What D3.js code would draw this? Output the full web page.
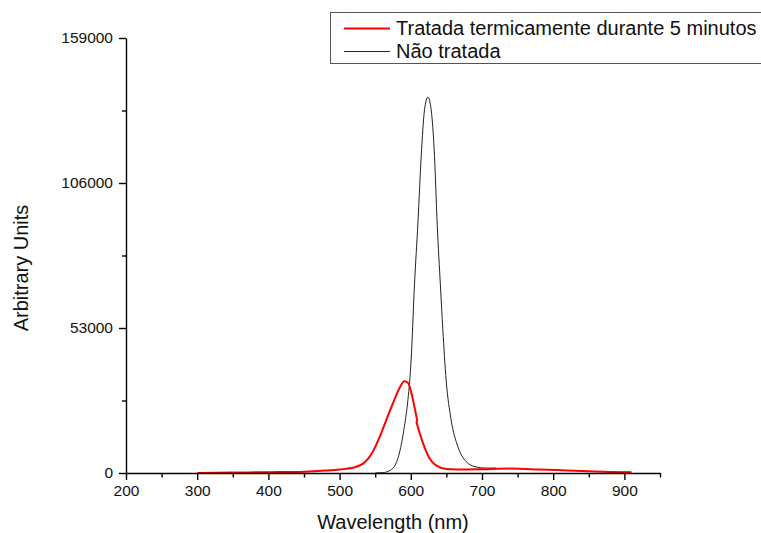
<!DOCTYPE html>
<html>
<head>
<meta charset="utf-8">
<script src="https://cdn.jsdelivr.net/npm/d3@7"></script>
<style>
  html, body { margin: 0; padding: 0; background: #fff; }
  svg { display: block; font-family: Arial, "Liberation Sans", sans-serif; }
</style>
</head>
<body>
<svg id="chart" width="761" height="533"></svg>
<script>
// ---------- data ----------
const seriesNames = ["Tratada termicamente durante 5 minutos", "Não tratada"];

// red series: two recorded segments (small jog near 608 nm)
const tratadaWavelengthA = [300, 350, 400, 450, 480, 500, 520, 535, 545, 556, 565, 575, 584, 591, 596, 602, 606, 609];
const tratadaValuesA     = [0, 150, 300, 500, 900, 1300, 2000, 3800, 7000, 13000, 19000, 25500, 31000, 33500, 33000, 28000, 23000, 19300];
const tratadaWavelengthB = [608, 612, 617, 626, 636, 650, 680, 700, 740, 780, 820, 850, 880, 910];
const tratadaValuesB     = [18600, 15000, 11000, 5500, 2700, 1500, 1300, 1400, 1600, 1300, 900, 600, 400, 250];

const naoTratadaWavelength = [550, 560, 566, 571, 577, 584, 591, 596, 600.5, 605, 610, 614.6, 619.3, 624, 628.6, 633.3, 637, 641.7, 645, 649.6, 656.6, 666, 677.6, 691.7, 705, 720];
const naoTratadaValues     = [0, 100, 400, 1000, 2400, 7300, 17000, 26800, 41400, 68000, 91400, 115700, 132800, 137400, 132800, 115700, 91400, 68000, 52400, 34100, 19500, 9700, 4200, 2200, 1800, 1800];

const xTicksMajor = [200, 300, 400, 500, 600, 700, 800, 900];
const xTicksMinor = [250, 350, 450, 550, 650, 750, 850, 950];
const yTicksMajor = [0, 53000, 106000, 159000];
const yTicksMinor = [26500, 79500, 132500];

// ---------- layout ----------
const svg = d3.select("#chart");
const x = d3.scaleLinear().domain([200, 950]).range([126, 660]);
const y = d3.scaleLinear().domain([0, 159000]).range([473, 38]);

const line = d3.line().x(d => x(d[0])).y(d => y(d[1])).curve(d3.curveMonotoneX);
const straight = d3.line().x(d => x(d[0])).y(d => y(d[1]));

const tratadaA = tratadaWavelengthA.map((w, i) => [w, tratadaValuesA[i]]);
const tratadaB = tratadaWavelengthB.map((w, i) => [w, tratadaValuesB[i]]);
const naoTratada = naoTratadaWavelength.map((w, i) => [w, naoTratadaValues[i]]);

svg.append("path")
  .datum(naoTratada)
  .attr("fill", "none")
  .attr("stroke", "#222")
  .attr("stroke-width", 1)
  .attr("d", line);

[tratadaA, tratadaB].forEach(seg => {
  svg.append("path")
    .datum(seg)
    .attr("fill", "none")
    .attr("stroke", "#ff0000")
    .attr("stroke-width", 2)
    .attr("stroke-linejoin", "round")
    .attr("d", line);
});
// join between the two segments
svg.append("path")
  .datum([tratadaA[tratadaA.length - 1], tratadaB[0]])
  .attr("fill", "none")
  .attr("stroke", "#ff0000")
  .attr("stroke-width", 2)
  .attr("stroke-linecap", "round")
  .attr("d", straight);

// axes
const xAxis = svg.append("g").attr("transform", "translate(0,473)");
xAxis.call(d3.axisBottom(x).tickValues(xTicksMajor).tickSize(7).tickSizeOuter(0).tickPadding(5).tickFormat(d3.format("d")));
xAxis.append("g").call(d3.axisBottom(x).tickValues(xTicksMinor).tickSize(4.5).tickSizeOuter(0).tickFormat(""))
  .select(".domain").remove();

const yAxis = svg.append("g").attr("transform", "translate(126,0)");
yAxis.call(d3.axisLeft(y).tickValues(yTicksMajor).tickSize(7).tickSizeOuter(0).tickPadding(6).tickFormat(d3.format("d")));
yAxis.append("g").call(d3.axisLeft(y).tickValues(yTicksMinor).tickSize(4).tickSizeOuter(0).tickFormat(""))
  .select(".domain").remove();

svg.selectAll(".domain").attr("stroke", "#000").attr("stroke-width", 1.4);
svg.selectAll(".tick line").attr("stroke", "#000").attr("stroke-width", 1.4);
svg.selectAll(".tick text").attr("font-size", "15.5px").attr("fill", "#111")
  .attr("font-family", "Arial, 'Liberation Sans', sans-serif");

// axis titles
svg.append("text")
  .attr("x", 393).attr("y", 529)
  .attr("text-anchor", "middle")
  .attr("font-size", "20px").attr("fill", "#111")
  .text("Wavelength (nm)");

svg.append("text")
  .attr("transform", "translate(28,268) rotate(-90)")
  .attr("text-anchor", "middle")
  .attr("font-size", "20px").attr("fill", "#111")
  .text("Arbitrary Units");

// legend
const legend = svg.append("g");
legend.append("rect")
  .attr("x", 330.5).attr("y", 12.5).attr("width", 440).attr("height", 51)
  .attr("fill", "#fff").attr("stroke", "#555").attr("stroke-width", 1);
const legendColors = ["#ff0000", "#222"];
const legendWidths = [2, 1];
const legendY = [28.5, 51.5];
seriesNames.forEach((name, i) => {
  legend.append("line")
    .attr("x1", 344).attr("x2", 390)
    .attr("y1", legendY[i]).attr("y2", legendY[i])
    .attr("stroke", legendColors[i]).attr("stroke-width", legendWidths[i]);
  legend.append("text")
    .attr("x", 396).attr("y", legendY[i] + 6.8)
    .attr("font-size", "20px").attr("fill", "#111")
    .text(name);
});
</script>
</body>
</html>
